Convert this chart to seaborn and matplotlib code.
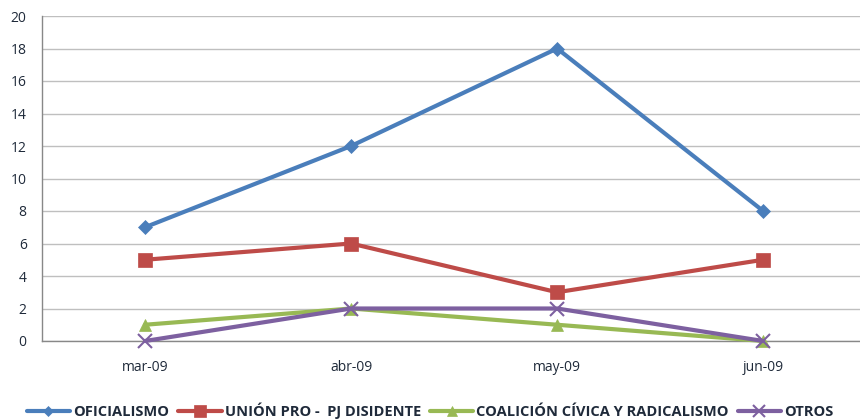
import matplotlib

matplotlib.use("Agg")
import matplotlib.pyplot as plt
import pandas as pd
import seaborn as sns

months = ["mar-09", "abr-09", "may-09", "jun-09"]
oficialismo = [7, 12, 18, 8]
union_pro = [5, 6, 3, 5]
coalicion = [1, 2, 1, 0]
otros = [0, 2, 2, 0]

series_names = ["OFICIALISMO", "UNIÓN PRO -  PJ DISIDENTE", "COALICIÓN CÍVICA Y RADICALISMO", "OTROS"]
series_values = [oficialismo, union_pro, coalicion, otros]
colors = ["#4A7EBB", "#BE4B48", "#98B954", "#7D60A0"]
markers = ["D", "s", "^", "x"]
marker_sizes = [7, 10, 9, 10]

sns.set_style("white")
plt.rcParams["font.family"] = ["Open Sans", "DejaVu Sans"]

rows = []
for name, values in zip(series_names, series_values):
    for i, v in enumerate(values):
        rows.append({"serie": name, "pos": i, "valor": v})
df = pd.DataFrame(rows)

fig = plt.figure(figsize=(8.6, 4.2), dpi=100)
ax = fig.add_axes([42 / 860, 79 / 420, 818 / 860, 325 / 420])

for name, color, marker, ms in zip(series_names, colors, markers, marker_sizes):
    sub = df[df["serie"] == name]
    sns.lineplot(
        data=sub, x="pos", y="valor", ax=ax, color=color, linewidth=3,
        marker=marker, markersize=ms, markeredgecolor=color,
        markeredgewidth=1.5 if marker == "x" else 0.5, label=name,
        clip_on=False, zorder=3,
    )

ax.set_xlim(-0.5, 3.47)
ax.set_ylim(0, 20)
ax.set_yticks(range(0, 21, 2))
ax.set_xticks([0.5, 1.5, 2.5], minor=False)
ax.set_xticklabels([])
ax.set_xticks(range(4), minor=True)
ax.set_xticklabels(months, minor=True)
ax.tick_params(axis="x", which="minor", length=0, pad=14, labelsize=10, labelcolor="#1F2A3A")
ax.tick_params(axis="x", which="major", length=5, color="#888888", direction="out")
ax.tick_params(axis="y", length=5, color="#888888", direction="out", labelsize=10, labelcolor="#1F2A3A", pad=6)
ax.grid(axis="y", color="#BFBFBF", linewidth=1)
ax.set_axisbelow(True)
for side in ["top", "right"]:
    ax.spines[side].set_visible(False)
for side in ["left", "bottom"]:
    ax.spines[side].set_color("#888888")
    ax.spines[side].set_linewidth(1)
ax.set_xlabel("")
ax.set_ylabel("")

handles, labels = ax.get_legend_handles_labels()
ax.legend(
    handles, labels, loc="center", bbox_to_anchor=(0.5, 9 / 420), bbox_transform=fig.transFigure,
    ncol=4, frameon=False, handlelength=3.0, handletextpad=0.2, columnspacing=0.6,
    borderpad=0, markerscale=0.8, prop={"weight": "bold", "size": 10.5},
    labelcolor="#1F2A3A",
)

fig.savefig("out.png", dpi=100)
